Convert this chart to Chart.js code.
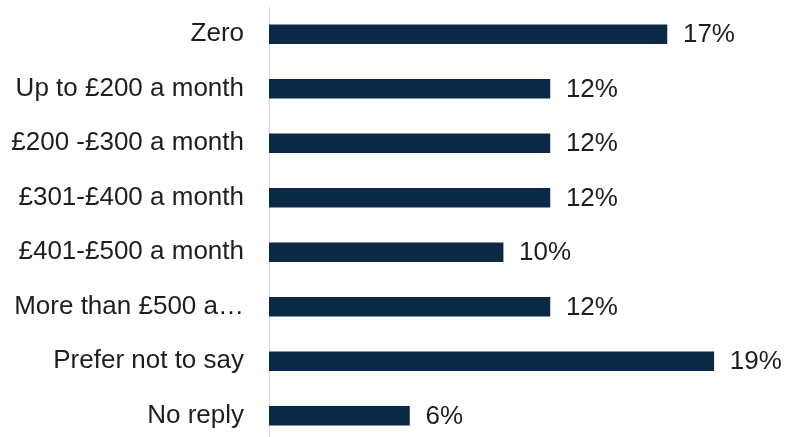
<!DOCTYPE html>
<html lang="en">
<head>
    <meta charset="UTF-8">
    <title>Monthly amount</title>
    <script src="https://cdn.jsdelivr.net/npm/chart.js"></script>
    <style>
        html, body { margin: 0; padding: 0; background: #fff; overflow: hidden; }
        #wrap { width: 785px; height: 444px; }
    </style>
</head>
<body>
    <div id="wrap"><canvas id="myChart"></canvas></div>

    <script>
        const categories = [
            'Zero',
            'Up to £200 a month',
            '£200 -£300 a month',
            '£301-£400 a month',
            '£401-£500 a month',
            'More than £500 a…',
            'Prefer not to say',
            'No reply'
        ];
        const shares = [17, 12, 12, 12, 10, 12, 19, 6];

        const font = { family: '"Liberation Sans", Arial, sans-serif', size: 26 };

        // writes "NN%" just past the end of each bar
        const valueLabels = {
            id: 'valueLabels',
            afterDatasetsDraw(chart) {
                const ctx = chart.ctx;
                const meta = chart.getDatasetMeta(0);
                ctx.save();
                ctx.font = font.size + 'px ' + font.family;
                ctx.fillStyle = '#1e1e1e';
                ctx.textAlign = 'left';
                ctx.textBaseline = 'middle';
                meta.data.forEach((bar, i) => {
                    ctx.fillText(shares[i] + '%', bar.x + 16, bar.y + 1);
                });
                ctx.restore();
            }
        };

        const ctx = document.getElementById('myChart').getContext('2d');
        new Chart(ctx, {
            type: 'bar',
            data: {
                labels: categories,
                datasets: [{
                    data: shares,
                    backgroundColor: '#0b2844',
                    borderWidth: 0,
                    barThickness: 19
                }]
            },
            options: {
                indexAxis: 'y',
                responsive: true,
                maintainAspectRatio: false,
                animation: false,
                layout: { padding: { top: 7, right: 1, bottom: 1, left: 0 } },
                plugins: {
                    legend: { display: false },
                    tooltip: { enabled: false }
                },
                scales: {
                    x: {
                        display: false,
                        min: 0,
                        max: 22
                    },
                    y: {
                        grid: { display: false },
                        border: { display: true, color: '#d9d9d9', width: 1 },
                        ticks: { color: '#1e1e1e', font: font, padding: 17 },
                        afterFit(scale) {
                            // fixed label column; labels sit inside their bands so no extra room is needed
                            scale.width = 269;
                            scale.paddingTop = 0;
                            scale.paddingBottom = 0;
                        }
                    }
                }
            },
            plugins: [valueLabels]
        });
    </script>
</body>
</html>
